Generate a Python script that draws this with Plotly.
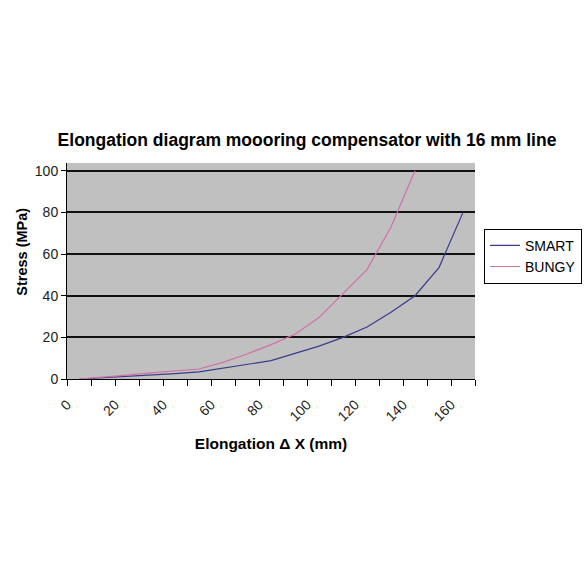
import plotly.graph_objects as go

categories = [0, 10, 20, 30, 40, 50, 60, 70, 80, 90, 100, 110, 120, 130, 140, 150, 160]
smart = [0, 0.6, 1.3, 2.1, 2.6, 3.4, 5.3, 7.0, 8.8, 12.3, 15.8, 20.0, 25.0, 32.0, 40.0, 53.5, 80.0]
bungy = [0, 0.8, 1.9, 2.9, 3.7, 4.8, 8.0, 12.0, 16.5, 21.5, 29.5, 41.0, 52.5, 73.0, 100.0]
x_labels = [0, 20, 40, 60, 80, 100, 120, 140, 160]
y_ticks = [0, 20, 40, 60, 80, 100]

font_family = "Liberation Sans, Arial, sans-serif"

fig = go.Figure()
fig.add_trace(go.Scatter(x=categories[:len(smart)], y=smart, mode="lines", name="SMART",
                         line=dict(color="#3A3A8C", width=1.2)))
fig.add_trace(go.Scatter(x=categories[:len(bungy)], y=bungy, mode="lines", name="BUNGY",
                         line=dict(color="#D070A8", width=1.2)))

fig.update_layout(
    width=584, height=584,
    paper_bgcolor="white",
    plot_bgcolor="#C0C0C0",
    margin=dict(l=67, r=109, t=163, b=205, autoexpand=False),
    font=dict(family=font_family, color="black", size=13),
    title=dict(text="<b>Elongation diagram moooring compensator with 16 mm line</b>",
               x=307 / 584, xanchor="center", y=1 - 140 / 584, yanchor="middle",
               font=dict(size=17.5, family=font_family)),
    showlegend=True,
    legend=dict(x=(484 - 67) / (475 - 67), y=(379.3 - 229) / (379.3 - 163.3),
                xanchor="left", yanchor="top",
                bordercolor="black", borderwidth=1, bgcolor="white",
                font=dict(size=14, family=font_family),
                itemwidth=30, tracegroupgap=2),
    annotations=[dict(text="<b>Stress (MPa)</b>",
                      x=(22 - 67) / (475 - 67), xref="paper",
                      y=(379.3 - 252) / (379.3 - 163.3), yref="paper",
                      showarrow=False, textangle=-90, font=dict(size=14.5),
                      xanchor="center", yanchor="middle")],
)

fig.update_xaxes(
    range=[-5, 165], tickmode="array", tickvals=x_labels, ticktext=[str(v) for v in x_labels],
    tickangle=-45, ticks="", showgrid=False, zeroline=False,
    showline=True, linecolor="black", linewidth=1,
    tickfont=dict(size=14, color="#222"),
    ticklabelstandoff=11, ticklabelshift=-12,
    minor=dict(tickmode="linear", tick0=-5, dtick=10, ticks="outside", ticklen=6,
               tickcolor="black", tickwidth=1, showgrid=False),
    title=dict(text="<b>Elongation Δ X (mm)</b>", font=dict(size=15.5), standoff=14),
)
fig.update_yaxes(
    range=[0, 103.7], tickmode="array", tickvals=y_ticks,
    ticks="outside", ticklen=5, tickcolor="black",
    showgrid=True, gridcolor="#111111", gridwidth=1.5, zeroline=False,
    showline=True, linecolor="black", linewidth=1,
    tickfont=dict(size=14, color="#222"),
)

fig.write_html("out.html")
